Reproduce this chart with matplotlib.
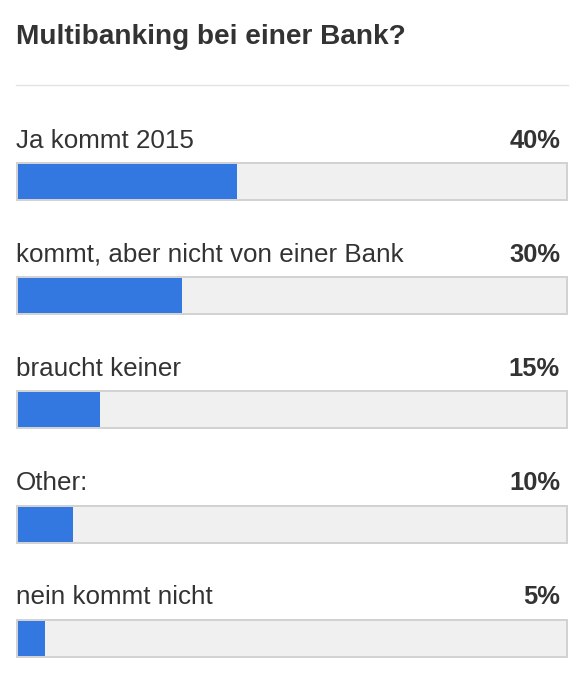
import matplotlib.pyplot as plt

title = 'Multibanking bei einer Bank?'
answers = ['Ja kommt 2015', 'kommt, aber nicht von einer Bank', 'braucht keiner', 'Other:', 'nein kommt nicht']
percents = [40, 30, 15, 10, 5]

W, H = 586, 676
plt.rcParams['font.family'] = ['Liberation Sans', 'DejaVu Sans']

fig = plt.figure(figsize=(W / 100, H / 100), dpi=100)
fig.patch.set_facecolor('white')

# axes spans the inner track horizontally, whole figure vertically (y in px)
ax = fig.add_axes([18 / W, 0, 548 / W, 1])
ax.set_xlim(0, 100)
ax.set_ylim(H, 0)
ax.axis('off')

px = 100 / 548  # one pixel in data units
centers = [181.5 + 114.2 * i for i in range(len(answers))]

tracks = ax.barh(centers, 100 + 2 * px, left=-px, height=37, color='#f0f0f0',
                 edgecolor='#d2d2d2', linewidth=1.44)
for r in tracks:
    r.set_clip_on(False)
ax.barh(centers, percents, height=35, color='#3377e1', linewidth=0)

pt = 72 / 100
fig.text(16 / W, 1 - 44 / H, title, fontsize=28 * pt, fontweight='bold',
         color='#333333', ha='left', va='baseline')
fig.add_artist(plt.Line2D([16 / W, 568 / W], [1 - 85 / H, 1 - 85 / H],
                          color='#e3e3e3', linewidth=1.0))

for c, a, p in zip(centers, answers, percents):
    base = c - 34
    fig.text(16 / W, 1 - base / H, a, fontsize=26 * pt, color='#333333',
             ha='left', va='baseline')
    fig.text(560 / W, 1 - base / H, f'{p}%', fontsize=25.5 * pt, fontweight='bold',
             color='#333333', ha='right', va='baseline')

fig.savefig('out.png', dpi=100, facecolor='white')
